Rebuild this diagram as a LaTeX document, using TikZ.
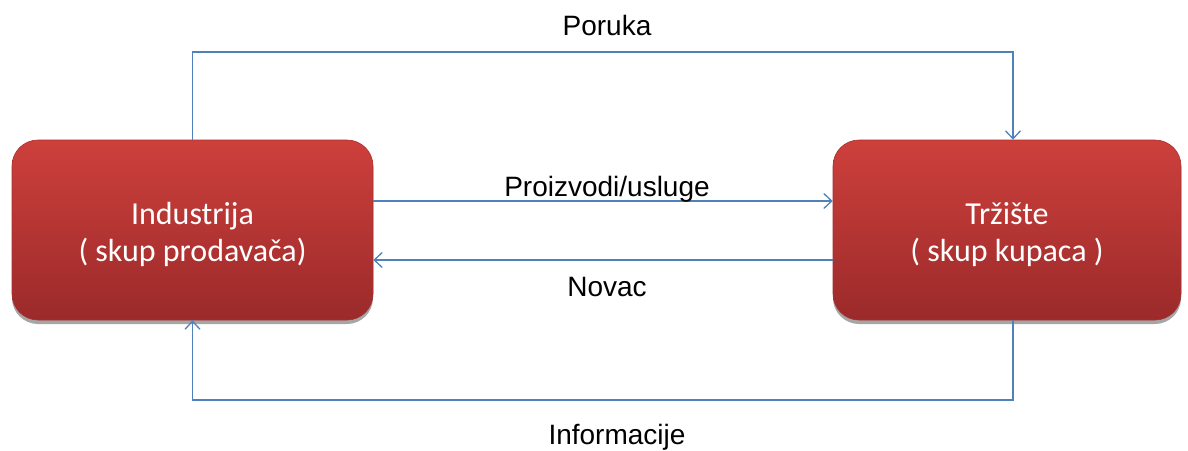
\documentclass[tikz,border=0pt]{standalone}
\usepackage{fontspec}
\setmainfont{Liberation Sans}
\newfontfamily\boxfont{Carlito}
\usetikzlibrary{arrows.meta,shadows}
\definecolor{linkblue}{RGB}{79,129,189}
\definecolor{redtop}{RGB}{205,64,60}
\definecolor{redbot}{RGB}{155,42,42}
\definecolor{redborder}{RGB}{170,45,45}
\tikzset{
  redbox/.style={rectangle, rounded corners=26pt, top color=redtop, bottom color=redbot,
    draw=redborder, line width=0.6pt, text=white, align=center,
    font=\boxfont\fontsize{32}{37}\selectfont,
    drop shadow={shadow xshift=0pt, shadow yshift=-4pt, opacity=0.35, fill=black}},
  link/.style={draw=linkblue, line width=1.3pt, -{Straight Barb[length=8pt,width=15pt,line width=1.3pt]}},
  lbl/.style={font=\fontsize{28}{32}\selectfont, anchor=base, inner sep=0pt}
}
\begin{document}
\begin{tikzpicture}[x=1pt,y=-1pt]
\useasboundingbox (0,0) rectangle (1188,450);
\node[redbox, minimum width=361pt, minimum height=180pt] (ind) at (192.5,230) {\rule{0pt}{31pt}Industrija\\( skup prodavača)};
\node[redbox, minimum width=348pt, minimum height=180pt] (trz) at (1007,230) {\rule{0pt}{31pt}Tržište\\( skup kupaca )};
\coordinate (tx) at (1013,0);
\coordinate (top) at (600,52);
\coordinate (bot) at (600,400);
% top: Poruka
\draw[link] (ind.north) |- (top) -| (trz.north -| tx);
% bottom: Informacije
\draw[link] (trz.south -| tx) |- (bot) -| (ind.south);
% middle
\draw[link] ([yshift=29pt]ind.east) -- ([yshift=29pt]trz.west);
\draw[link] ([yshift=-30pt]trz.west) -- ([yshift=-30pt]ind.east);
\node[lbl] (poruka) at (607,35) {Poruka};
\node[lbl] (proiz) at (607,196) {Proizvodi/usluge};
\node[lbl] (novac) at (607,296) {Novac};
\node[lbl] (info) at (617,444) {Informacije};
\end{tikzpicture}
\end{document}
